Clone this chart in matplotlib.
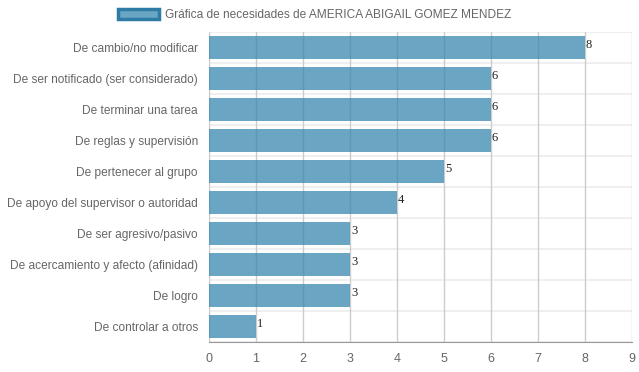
import matplotlib.pyplot as plt
from matplotlib.patches import Patch

categories = [
    "De cambio/no modificar",
    "De ser notificado (ser considerado)",
    "De terminar una tarea",
    "De reglas y supervisión",
    "De pertenecer al grupo",
    "De apoyo del supervisor o autoridad",
    "De ser agresivo/pasivo",
    "De acercamiento y afecto (afinidad)",
    "De logro",
    "De controlar a otros",
]
values = [8, 6, 6, 6, 5, 4, 3, 3, 3, 1]
x_ticks = list(range(0, 10))
legend_label = "Gráfica de necesidades de AMERICA ABIGAIL GOMEZ MENDEZ"

plt.rcParams["font.family"] = ["Liberation Sans", "DejaVu Sans"]

fig = plt.figure(figsize=(6.39, 3.72), dpi=100)
ax = fig.add_axes([209 / 639, 1 - 342 / 372, 423 / 639, 310 / 372])

bar_color = (56 / 255, 135 / 255, 176 / 255, 0.75)
ypos = list(range(len(categories)))
ax.barh(ypos, values, height=0.72, color=bar_color, zorder=3)

for y, v in zip(ypos, values):
    ax.text(v + 0.02, y - 0.08, str(v), va="center", ha="left", fontsize=9,
            family="Liberation Serif", color="#222", zorder=4)

ax.set_xlim(0, 9)
ax.set_ylim(len(categories) - 0.5, -0.5)
ax.set_xticks(x_ticks)
ax.set_yticks(ypos)
ax.set_yticklabels(categories)
ax.tick_params(axis="both", colors="#666", labelsize=8.6, length=0)
ax.tick_params(axis="y", pad=8)
ax.tick_params(axis="x", labelsize=9, pad=8)

# vertical grid at each integer
for x in x_ticks:
    ax.axvline(x, color="#cccccc", lw=1, zorder=1)
# light horizontal separators between categories
for b in range(len(categories) + 1):
    ax.axhline(b - 0.5, color="#ececec", lw=1.2, zorder=0.5)

for s in ["top", "right"]:
    ax.spines[s].set_visible(False)
ax.spines["left"].set_color("#cccccc")
ax.spines["bottom"].set_color("#999999")

handle = Patch(facecolor="#6aa5c4", edgecolor="#2e7ba6", linewidth=2.5)
fig.legend([handle], [legend_label], loc="center", bbox_to_anchor=(0.492, 1 - 15 / 372),
           frameon=False, fontsize=8.6, labelcolor="#666", handlelength=3.4,
           handleheight=1.0, handletextpad=0.5)

fig.savefig("out.png", dpi=100)
